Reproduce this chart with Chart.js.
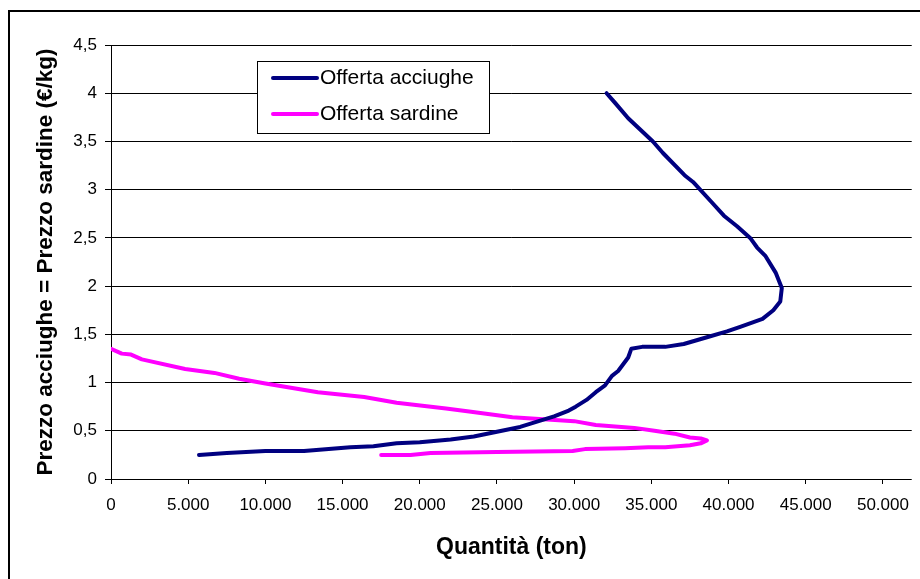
<!DOCTYPE html>
<html>
<head>
<meta charset="utf-8">
<script src="https://cdn.jsdelivr.net/npm/chart.js@4"></script>
<style>
  html, body { margin: 0; padding: 0; background: #fff; }
  #wrap { width: 920px; height: 579px; }
</style>
</head>
<body>
<div id="wrap"><canvas id="chart" width="920" height="579"></canvas></div>
<script>
// Quantity (ton) / price (€/kg) pairs
const acciugheQty = [5700, 7500, 10000, 12500, 15500, 17000, 18500, 20000, 22000, 23500,
    25000, 26500, 27700, 28700, 29650, 30100, 30800, 31400, 32000, 32450,
    32850, 33500, 33700, 34400, 35900, 37100, 38600, 39900, 40800, 42200,
    42900, 43350, 43450, 43050, 42400, 41850, 41400, 40550, 39700, 38850,
    37700, 37150, 35750, 35100, 33500, 32650, 32100];
const acciughePrice = [0.25, 0.27, 0.29, 0.29, 0.33, 0.34, 0.37, 0.38, 0.41, 0.44,
    0.49, 0.54, 0.60, 0.65, 0.71, 0.75, 0.82, 0.90, 0.97, 1.07,
    1.12, 1.26, 1.35, 1.37, 1.37, 1.40, 1.47, 1.53, 1.58, 1.66,
    1.75, 1.84, 1.98, 2.14, 2.31, 2.40, 2.50, 2.62, 2.73, 2.88,
    3.08, 3.15, 3.38, 3.50, 3.74, 3.90, 4.00];

const sardineQty = [0, 700, 1300, 2000, 4800, 6700, 8300, 10000, 13400, 16400,
    18500, 21700, 23200, 26000, 30000, 31400, 33900, 35200, 36500, 37500,
    38200, 38600, 38200, 37500, 35900, 34800, 33300, 30700, 29900, 25000,
    20700, 19400, 17500];
const sardinePrice = [1.35, 1.30, 1.29, 1.24, 1.14, 1.10, 1.04, 0.99, 0.90, 0.85,
    0.79, 0.73, 0.70, 0.64, 0.60, 0.56, 0.53, 0.50, 0.47, 0.43,
    0.42, 0.40, 0.37, 0.35, 0.33, 0.33, 0.32, 0.31, 0.29, 0.28,
    0.27, 0.25, 0.25];

const seriesLabels = ['Offerta acciughe', 'Offerta sardine'];
const seriesColors = ['#000080', '#FF00FF'];

const xTitle = 'Quantità (ton)';
const yTitle = 'Prezzo acciughe = Prezzo sardine (€/kg)';

const toPoints = (xs, ys) => xs.map((x, i) => ({ x: x, y: ys[i] }));

function fmtThousands(v) {
    return String(Math.round(v)).replace(/\B(?=(\d{3})+(?!\d))/g, '.');
}

// outer frame of the chart object
const framePlugin = {
    id: 'frame',
    afterDraw(chart) {
        const ctx = chart.ctx;
        ctx.save();
        ctx.strokeStyle = '#000';
        ctx.lineWidth = 2;
        ctx.strokeRect(9, 11, 1000, 1000);
        ctx.restore();
    }
};

// boxed legend sitting inside the plot area
const boxLegend = {
    id: 'boxLegend',
    afterDraw(chart) {
        const ctx = chart.ctx;
        const a = chart.chartArea;
        const x0 = a.left + 146, y0 = a.top + 16, w = 232, h = 72;
        ctx.save();
        ctx.fillStyle = '#fff';
        ctx.fillRect(x0, y0, w, h);
        ctx.strokeStyle = '#000';
        ctx.lineWidth = 1;
        ctx.strokeRect(x0 + 0.5, y0 + 0.5, w, h);
        ctx.font = '21px "Liberation Sans", Arial, sans-serif';
        ctx.textBaseline = 'middle';
        chart.data.datasets.forEach((ds, i) => {
            const cy = y0 + 17 + i * 36;
            ctx.strokeStyle = ds.borderColor;
            ctx.lineWidth = 4;
            ctx.lineCap = 'round';
            ctx.beginPath();
            ctx.moveTo(x0 + 16, cy);
            ctx.lineTo(x0 + 60, cy);
            ctx.stroke();
            ctx.fillStyle = '#000';
            ctx.fillText(ds.label, x0 + 63, cy);
        });
        ctx.restore();
    }
};

const ctx = document.getElementById('chart').getContext('2d');
new Chart(ctx, {
    type: 'scatter',
    data: {
        datasets: [
            {
                label: seriesLabels[0],
                data: toPoints(acciugheQty, acciughePrice),
                borderColor: seriesColors[0],
                backgroundColor: seriesColors[0],
                showLine: true,
                pointRadius: 0,
                borderWidth: 4,
                borderJoinStyle: 'round',
                borderCapStyle: 'round',
                tension: 0
            },
            {
                label: seriesLabels[1],
                data: toPoints(sardineQty, sardinePrice),
                borderColor: seriesColors[1],
                backgroundColor: seriesColors[1],
                showLine: true,
                pointRadius: 0,
                borderWidth: 4,
                borderJoinStyle: 'round',
                borderCapStyle: 'round',
                tension: 0
            }
        ]
    },
    options: {
        responsive: false,
        animation: false,
        layout: { padding: { left: 0, top: 45, right: 2, bottom: 0 } },
        plugins: {
            legend: { display: false },
            tooltip: { enabled: false }
        },
        scales: {
            x: {
                type: 'linear',
                min: 0,
                max: 51865,
                afterBuildTicks: (scale) => {
                    const t = [];
                    for (let v = 0; v <= 50000; v += 5000) t.push({ value: v });
                    scale.ticks = t;
                },
                afterFit: (scale) => { scale.height = 100; },
                title: {
                    display: true,
                    text: xTitle,
                    color: '#000',
                    font: { family: '"Liberation Sans", Arial, sans-serif', size: 23, weight: 'bold' },
                    padding: { top: 0, bottom: 18 }
                },
                ticks: {
                    color: '#000',
                    padding: 11,
                    maxRotation: 0,
                    autoSkip: false,
                    font: { family: '"Liberation Sans", Arial, sans-serif', size: 17 },
                    callback: (v) => fmtThousands(v)
                },
                grid: { drawOnChartArea: false, drawTicks: true, tickLength: 5, color: '#000' },
                border: { display: false }
            },
            y: {
                type: 'linear',
                min: 0,
                max: 4.5,
                afterFit: (scale) => { scale.width = 111; },
                title: {
                    display: true,
                    text: yTitle,
                    color: '#000',
                    font: { family: '"Liberation Sans", Arial, sans-serif', size: 22.5, weight: 'bold' },
                    padding: { top: 32, bottom: 0 }
                },
                ticks: {
                    color: '#000',
                    stepSize: 0.5,
                    padding: 8,
                    font: { family: '"Liberation Sans", Arial, sans-serif', size: 17 },
                    callback: (v) => String(v).replace('.', ',')
                },
                grid: { color: '#000', lineWidth: 1, drawTicks: true, tickLength: 6 },
                border: { display: true, color: '#000', width: 1 }
            }
        }
    },
    plugins: [framePlugin, boxLegend]
});
</script>
</body>
</html>
